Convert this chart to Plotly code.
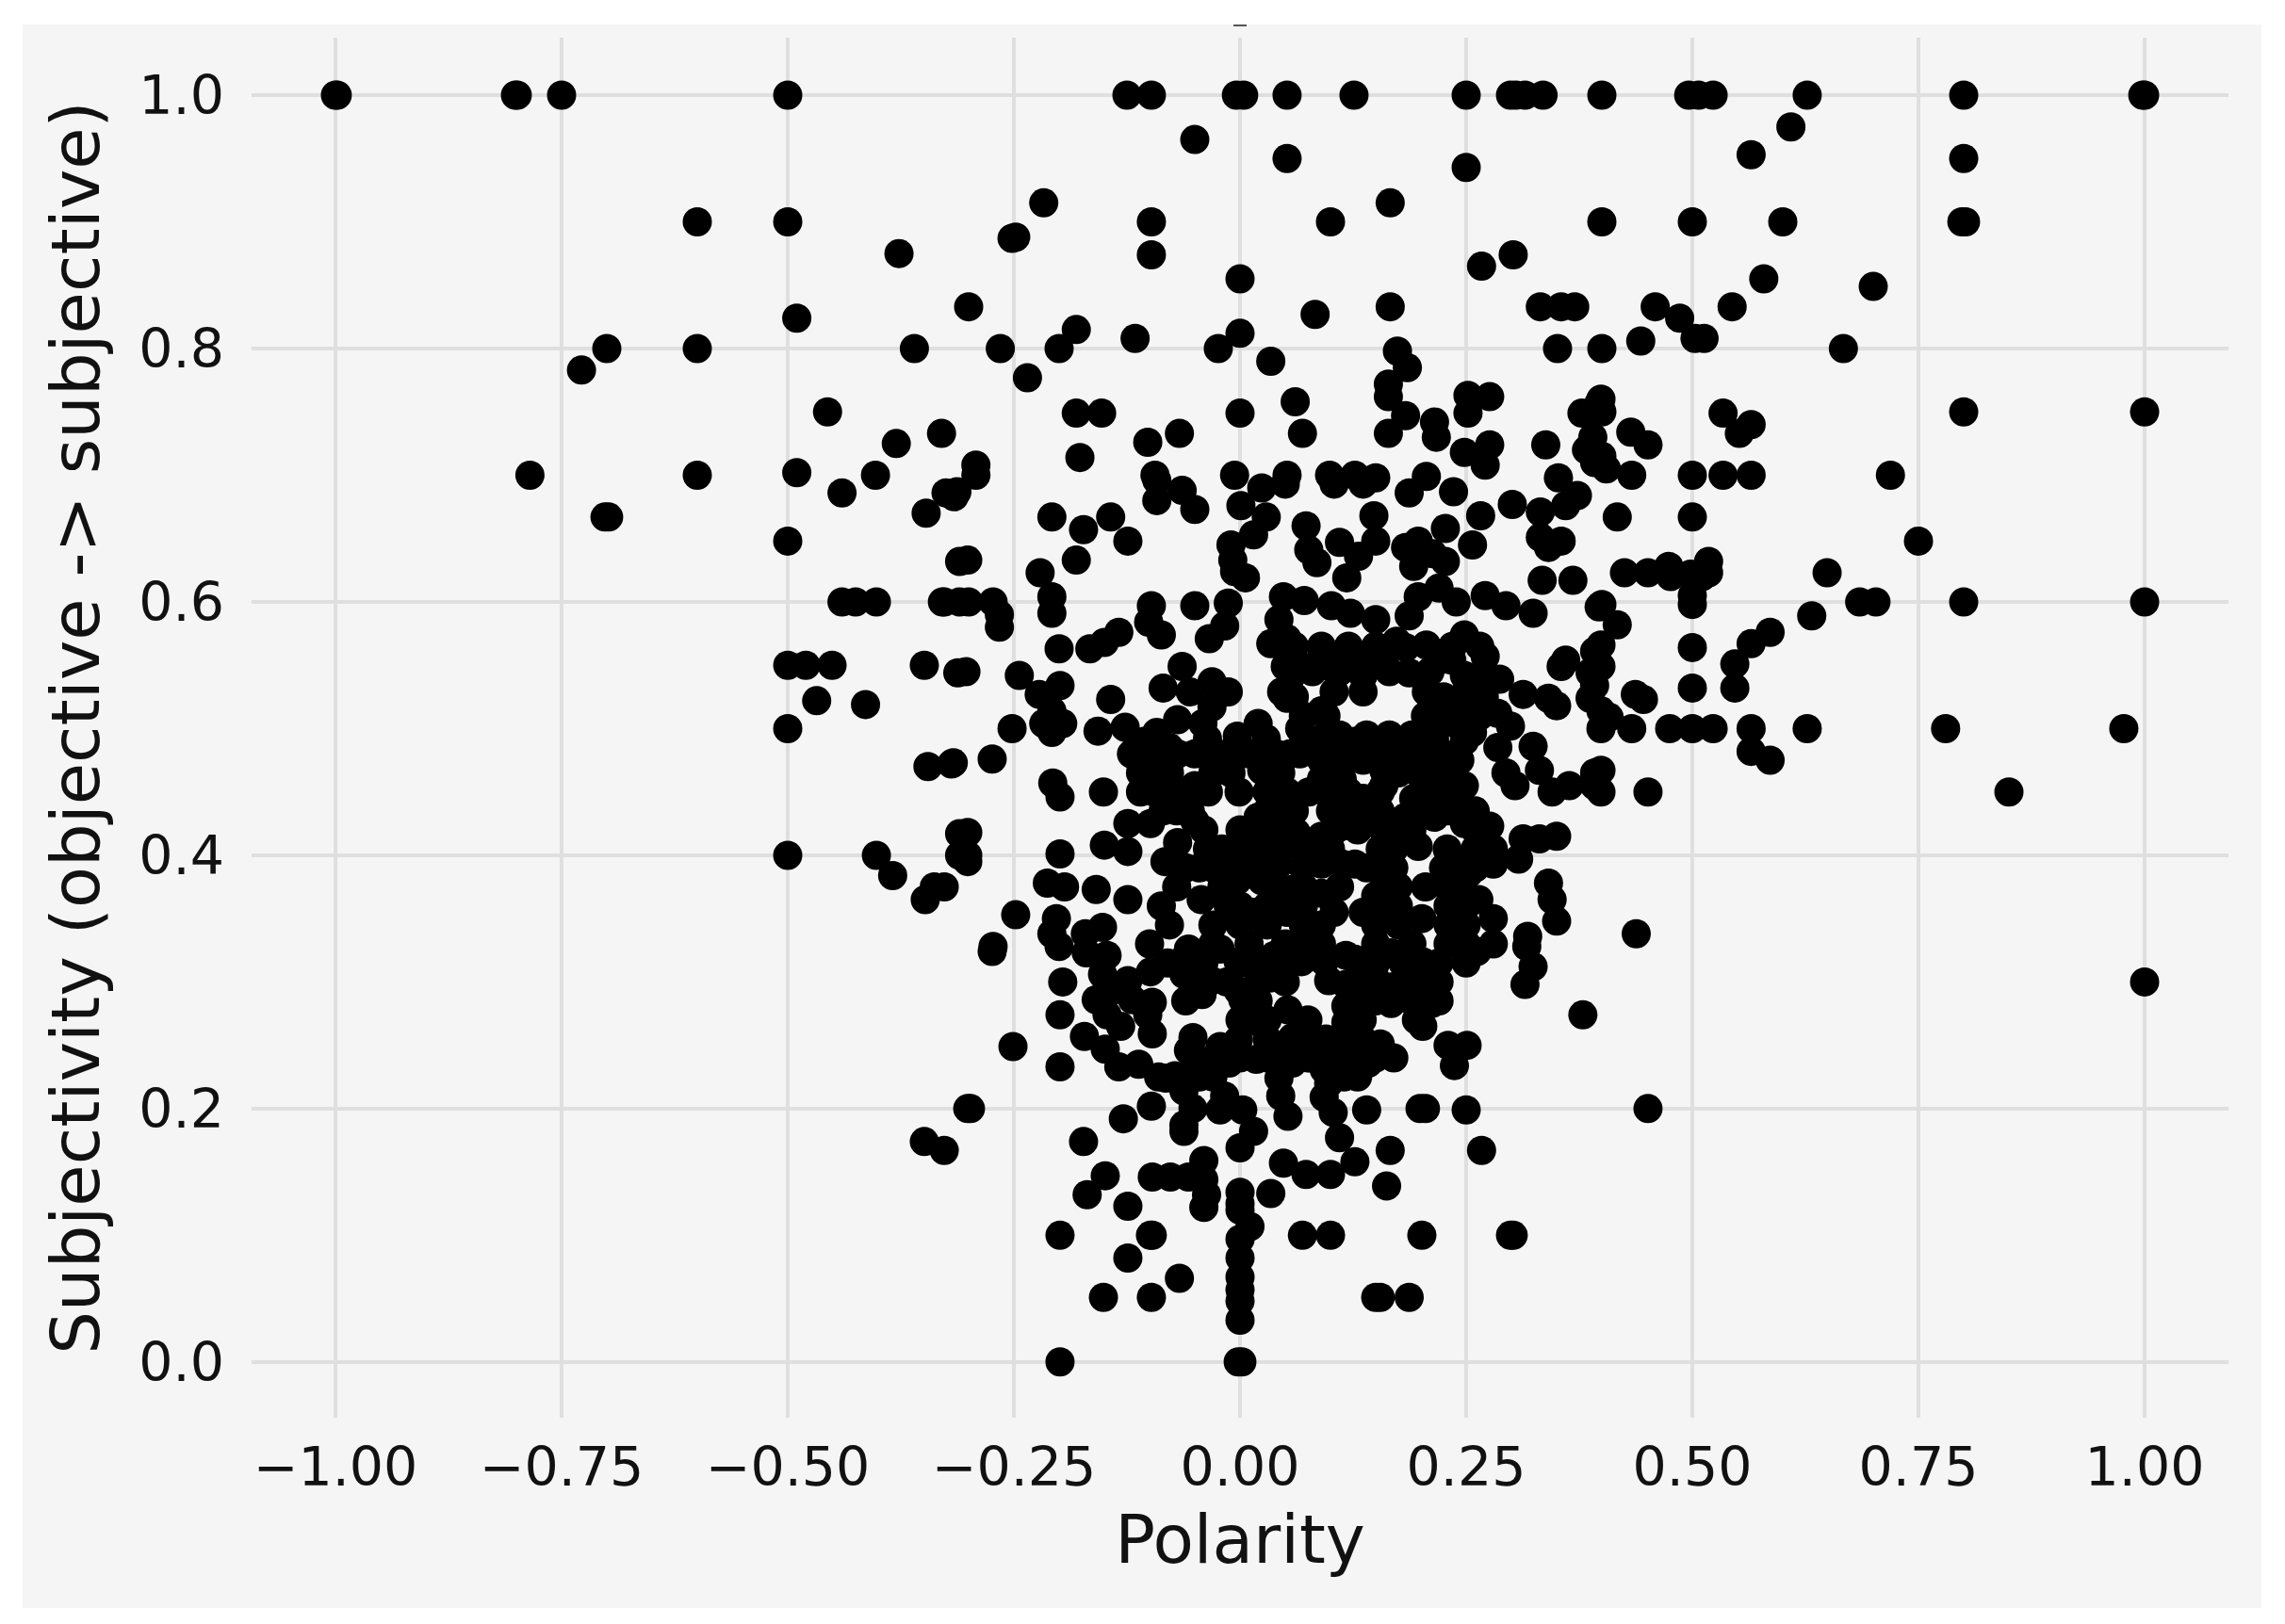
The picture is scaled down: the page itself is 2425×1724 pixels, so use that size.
import plotly.graph_objects as go

x_ticks = [-1.0, -0.75, -0.5, -0.25, 0.0, 0.25, 0.5, 0.75, 1.0]
y_ticks = [0.0, 0.2, 0.4, 0.6, 0.8, 1.0]
x_label = "Polarity"
y_label = "Subjectivity (objective -> subjective)"

# (polarity, subjectivity), region by region
top_row = [(-1,1),(-0.998,1),(-0.801,1),(-0.799,1),(-0.75,1),(-0.5,1),(-0.125,1),(-0.098,1),(-0.004,1),(0.004,1),(0.052,1),
           (0.126,1),(0.25,1),(0.299,1),(0.305,1),(0.315,1),(0.335,1),(0.4,1),(0.496,1),(0.507,1),(0.523,1),(0.627,1),(0.8,1),(0.998,1),(1,1)]
far_left = [(-0.6,0.9),(-0.5,0.9),(-0.377,0.875),(-0.49,0.824),(-0.7,0.8),(-0.728,0.783),(-0.6,0.8),(-0.36,0.8),(-0.456,0.75),
            (-0.38,0.725),(-0.785,0.7),(-0.6,0.7),(-0.49,0.702),(-0.403,0.7),(-0.44,0.686),(-0.702,0.667),(-0.698,0.667),(-0.347,0.67),
            (-0.33,0.733),(-0.325,0.686),(-0.5,0.648),(-0.44,0.6),(-0.425,0.6),(-0.402,0.6),(-0.327,0.6),(-0.31,0.6),(-0.316,0.683),
            (-0.5,0.55),(-0.48,0.55),(-0.451,0.55),(-0.349,0.55),(-0.312,0.544),(-0.468,0.522),(-0.414,0.519),(-0.5,0.5),(-0.345,0.47),
            (-0.319,0.472),(-0.31,0.417),(-0.31,0.4),(-0.305,0.4),(-0.5,0.4),(-0.402,0.4),(-0.384,0.384),(-0.338,0.375),(-0.348,0.365),(-0.31,0.632)]
upper_center = [(-0.05,0.965),(0.052,0.95),(0.25,0.943),(-0.217,0.915),(0.166,0.915),(-0.098,0.9),(0.1,0.9),(-0.252,0.887),(-0.248,0.888),
                (-0.098,0.874),(0.302,0.874),(0.267,0.865),(0,0.855),(-0.3,0.833),(0.166,0.833),(0.083,0.827),(0.332,0.833),(0.355,0.833),
                (0.37,0.833),(-0.181,0.815),(-0.265,0.8),(-0.2,0.8),(-0.116,0.808),(0,0.812),(-0.024,0.8),(0.034,0.79),(0.174,0.798),(0.185,0.785),
                (0.164,0.772),(0.164,0.762),(0.351,0.8),(-0.235,0.777),(0.061,0.758),(0,0.749),(-0.181,0.749),(-0.153,0.749),(0.252,0.763),
                (0.276,0.762),(0.252,0.749),(0.183,0.747),(0.164,0.733),(0.215,0.742),(0.217,0.73),(0.378,0.749),(0.397,0.757),(-0.067,0.733),
                (-0.102,0.726),(0.069,0.733),(0.338,0.724),(0.248,0.718),(0.276,0.724),(0.271,0.708),(0.383,0.72),(0.392,0.71),(-0.177,0.714),
                (-0.292,0.708),(-0.094,0.7),(-0.006,0.7),(0.052,0.7),(0.099,0.7),(0.127,0.7),(0.15,0.698),(0.206,0.699),(0.352,0.698)]
upper_right = [(0.609,0.975),(0.565,0.953),(0.8,0.95),(0.4,0.9),(0.5,0.9),(0.6,0.9),(0.798,0.9),(0.802,0.9),(0.579,0.855),(0.7,0.849),(0.459,0.833),
               (0.486,0.824),(0.503,0.808),(0.513,0.808),(0.544,0.833),(0.443,0.806),(0.4,0.8),(0.667,0.8),(0.534,0.749),(0.8,0.75),(1,0.75),(0.565,0.74),
               (0.552,0.733),(0.432,0.734),(0.451,0.724),(0.4,0.75),(0.399,0.76),(0.39,0.73),(0.4,0.715),(0.405,0.705),(0.433,0.7),(0.5,0.7),(0.534,0.7),
               (0.565,0.7),(0.719,0.7)]
mid_right = [(0.417,0.667),(0.5,0.667),(0.75,0.648),(0.425,0.623),(0.451,0.623),(0.474,0.628),(0.476,0.62),(0.498,0.622),(0.518,0.632),(0.518,0.623),
             (0.511,0.62),(0.649,0.623),(0.4,0.598),(0.5,0.598),(0.5,0.605),(0.685,0.6),(0.703,0.6),(0.8,0.6),(1,0.6),(0.632,0.589),(0.417,0.582),(0.586,0.576),
             (0.565,0.567),(0.5,0.564),(0.547,0.551),(0.5,0.532),(0.547,0.532),(0.399,0.566),(0.399,0.549),(0.437,0.527),(0.446,0.523),(0.399,0.514),(0.408,0.509),
             (0.399,0.5),(0.433,0.5),(0.475,0.5),(0.5,0.5),(0.523,0.5),(0.565,0.5),(0.627,0.5),(0.78,0.5),(0.977,0.5),(0.565,0.482),(0.586,0.475),(0.399,0.467),
             (0.399,0.45),(0.451,0.45),(0.85,0.45),(0.438,0.338),(1,0.3),(0.451,0.2),(0.379,0.274)]
center_left = [(-0.292,0.7),(-0.313,0.687),(-0.208,0.667),(-0.173,0.657),(-0.143,0.667),(-0.124,0.648),(-0.301,0.633),(-0.181,0.633),(-0.221,0.623),
               (-0.329,0.6),(-0.3,0.6),(-0.273,0.6),(-0.266,0.58),(-0.266,0.59),(-0.208,0.604),(-0.208,0.591),(-0.2,0.563),(-0.166,0.563),(-0.15,0.568),
               (-0.134,0.576),(-0.098,0.597),(-0.087,0.574),(-0.101,0.584),(-0.05,0.597),(-0.013,0.599),(-0.034,0.571),(-0.017,0.581),(-0.303,0.545),
               (-0.244,0.542),(-0.199,0.534),(-0.222,0.527),(-0.208,0.514),(-0.208,0.497),(-0.196,0.504),(-0.217,0.504),(-0.252,0.5),(-0.143,0.523),
               (-0.157,0.498),(-0.127,0.501),(-0.317,0.473),(-0.274,0.476),(-0.207,0.457),(-0.199,0.446),(-0.151,0.45),(-0.064,0.549),(-0.031,0.537),
               (-0.013,0.529),(-0.085,0.532),(-0.055,0.529),(-0.031,0.517),(-0.069,0.507),(-0.092,0.497),(-0.041,0.504),(-0.036,0.492),(-0.12,0.48),
               (-0.106,0.49),(-0.078,0.485),(-0.11,0.465),(-0.069,0.48),(-0.031,0.48),(-0.11,0.45),(-0.083,0.45),(-0.05,0.455),(-0.027,0.475),(-0.055,0.435),
               (-0.05,0.427),(-0.078,0.465),(-0.064,0.447),(-0.001,0.45),(-0.124,0.425),(-0.099,0.425),(-0.15,0.408),(-0.199,0.401),(-0.124,0.403),(-0.069,0.41),
               (-0.036,0.405),(-0.045,0.39),(-0.083,0.395),(-0.213,0.378),(-0.194,0.375),(-0.159,0.373),(-0.124,0.365),(-0.087,0.36),(-0.078,0.345),(-0.043,0.365),
               (-0.248,0.353),(-0.203,0.35),(-0.208,0.338),(-0.152,0.343),(-0.171,0.338),(-0.273,0.328),(-0.327,0.375),(-0.301,0.418),(-0.301,0.4),(-0.301,0.395)]
center_upper = [(-0.092,0.696),(-0.092,0.68),(-0.064,0.688),(-0.05,0.673),(0.001,0.676),(0.024,0.69),(0.05,0.693),(0.029,0.667),(-0.01,0.645),(0.015,0.653),
                (-0.006,0.624),(0.006,0.619),(-0.008,0.633),(0.104,0.693),(0.136,0.693),(0.187,0.686),(0.236,0.687),(0.301,0.677),(0.266,0.668),(0.148,0.668),
                (0.15,0.648),(0.073,0.66),(0.076,0.641),(0.11,0.647),(0.085,0.631),(0.131,0.636),(0.118,0.619),(0.197,0.648),(0.183,0.643),(0.192,0.628),(0.213,0.638),
                (0.227,0.632),(0.227,0.658),(0.257,0.645),(0.332,0.671),(0.332,0.651),(0.355,0.648),(0.36,0.676),(0.373,0.684),(0.341,0.643),(0.334,0.617),(0.368,0.617),
                (0.397,0.596),(0.22,0.611),(0.197,0.604),(0.187,0.589),(0.239,0.6),(0.271,0.605),(0.294,0.597),(0.324,0.591),(0.048,0.604),(0.071,0.601),(0.043,0.586),
                (0.101,0.597),(0.122,0.591),(0.15,0.586),(0.034,0.567),(0.052,0.571),(0.09,0.557),(0.117,0.557),(0.145,0.559),(0.173,0.569),(0.206,0.566),(0.248,0.574),
                (0.271,0.557),(0.234,0.554),(0.36,0.554),(0.355,0.549),(0.392,0.561),(0.387,0.544),(0.287,0.539),(0.313,0.527),(0.35,0.518),(0.341,0.524),(0.285,0.512),
                (0.387,0.524),(0.392,0.534)]
center_core = [(0.285,0.485),(0.299,0.502),(0.324,0.486),(0.304,0.455),(0.294,0.465),(0.331,0.467),(0.364,0.455),(0.345,0.45),(0.392,0.455),(0.392,0.465),
               (0.057,0.542),(0.046,0.529),(0.066,0.549),(0.052,0.524),(0.05,0.549),(0.099,0.549),(0.136,0.542),(0.159,0.552),(0.187,0.544),(0.22,0.554),(0.248,0.542),
               (0.262,0.529),(0.183,0.564),(0.104,0.529),(0.136,0.529),(0.09,0.514),(0.206,0.529),(0.229,0.514),(0.238,0.504),(0.257,0.497),(0.22,0.504),(0.215,0.492),
               (-0.003,0.494),(0.02,0.504),(0.029,0.492),(0.01,0.48),(0.024,0.467),(0.066,0.5),(0.09,0.492),(0.066,0.48),(0.09,0.475),(0.104,0.485),(0.127,0.49),(0.136,0.475),
               (0.113,0.46),(0.09,0.46),(0.052,0.45),(0.076,0.45),(0.104,0.447),(0.136,0.445),(0.155,0.49),(0.159,0.467),(0.192,0.48),(0.187,0.49),(0.225,0.48),(0.243,0.475),
               (0.248,0.455),(0.238,0.437),(0.197,0.465),(0.192,0.445),(0.22,0.45),(0.159,0.455),(0.248,0.49),(0.136,0.432),(0.113,0.423),(0.155,0.423),(0.183,0.43),(0.215,0.43),
               (0.248,0.425),(0.276,0.423),(0.28,0.405),(0.28,0.393),(0.313,0.413),(0.308,0.397),(0.35,0.415),(0.331,0.413),(0.248,0.395),(0.197,0.407),(0.229,0.405),(0.252,0.385),
               (0.341,0.378),(0.345,0.365),(0.35,0.348),(0.264,0.365),(0.28,0.35),(0.201,0.35),(0.159,0.395),(0.127,0.393),(0.159,0.375),(0.02,0.43),(0.043,0.44),(0.006,0.405),
               (0.034,0.418),(0.062,0.418),(0.09,0.415),(0.113,0.393),(0.09,0.393),(0.043,0.393),(-0.003,0.38),(0.024,0.38),(0.057,0.373),(0.015,0.355),(-0.013,0.36),(0.052,0.355),
               (0.09,0.37),(0.136,0.355),(0.104,0.355),(0.15,0.368),(0.318,0.336)]
lower_center = [(-0.274,0.324),(-0.196,0.3),(-0.199,0.274),(-0.251,0.249),(-0.199,0.233),(-0.172,0.257),(-0.149,0.247),(-0.134,0.233),(-0.112,0.235),(-0.159,0.286),(-0.152,0.306),
                (-0.142,0.293),(-0.147,0.274),(-0.132,0.265),(-0.124,0.301),(-0.099,0.308),(-0.097,0.284),(-0.119,0.286),(-0.097,0.259),(-0.102,0.274),(-0.2,0.328),(-0.17,0.323),
                (-0.147,0.321),(-0.062,0.306),(-0.042,0.29),(-0.032,0.301),(-0.062,0.318),(-0.057,0.326),(-0.002,0.316),(0.003,0.286),(0.013,0.269),(-0.002,0.254),(0.018,0.239),
                (-0.022,0.326),(0.038,0.321),(0.033,0.303),(0.053,0.278),(0.058,0.256),(0.048,0.241),(0.068,0.326),(-0.057,0.246),(-0.072,0.226),(-0.052,0.231),(-0.062,0.214),
                (-0.032,0.231),(-0.022,0.249),(-0.012,0.236),(-0.052,0.256),(-0.032,0.239),(-0.062,0.187),(-0.052,0.2),(-0.022,0.199),(0.003,0.199),(-0.017,0.21),(0.015,0.182),
                (0,0.169),(0.045,0.21),(0.053,0.194),(0.043,0.224),(0.058,0.236),(0.093,0.231),(0.117,0.236),(0.142,0.236),(0.117,0.256),(0.093,0.249),(0.117,0.281),(0.132,0.303),
                (0.117,0.298),(0.098,0.301),(0.127,0.318),(0.167,0.323),(0.167,0.283),(0.192,0.298),(0.212,0.283),(0.202,0.265),(0.167,0.296),(0.202,0.316),(0.262,0.324),(0.317,0.328),
                (0.324,0.312),(0.315,0.298),(0.155,0.251),(0.17,0.24),(0.23,0.25),(0.251,0.25),(0.237,0.234),(0.098,0.22),(0.093,0.209),(0.103,0.197),(0.11,0.177),(0.14,0.199),
                (0.199,0.2),(0.205,0.2),(0.25,0.199),(0.267,0.167),(0.166,0.167),(0.127,0.158),(0.162,0.139),(0.048,0.157),(0.073,0.148),(0.1,0.148),(0.034,0.133),(-0.062,0.182),
                (0.04,0.246),(0.078,0.24),(-0.082,0.224),(-0.002,0.293),(0.148,0.306),(0.117,0.321),(0.068,0.316),(0.093,0.316),(0.117,0.268),(0.142,0.288)]
bottom_part = [(0,0.134),(0,0.125),(0,0.12),(0.011,0.107),(0,0.097),(0,0.082),(0,0.067),(0,0.057),(0,0.048),(0,0.033),(-0.002,0),(0.002,0),(-0.04,0.159),(-0.04,0.144),(-0.037,0.132),
               (-0.04,0.122),(-0.097,0.146),(-0.077,0.146),(-0.057,0.146),(-0.149,0.147),(-0.169,0.132),(-0.124,0.123),(-0.098,0.202),(-0.129,0.192),(-0.173,0.174),(-0.301,0.2),(-0.298,0.2),
               (-0.349,0.174),(-0.327,0.167),(-0.199,0.1),(-0.099,0.1),(-0.097,0.1),(-0.124,0.082),(-0.067,0.066),(-0.151,0.051),(-0.098,0.051),(0.069,0.1),(0.1,0.1),(0.201,0.1),
               (0.299,0.1),(0.302,0.1),(0.15,0.051),(0.155,0.051),(0.187,0.051),(-0.199,0)]

# dense blob: marks hidden in the solid black area, estimated row by row (subjectivity, polarities)
blob_rows = [
    (0.565, [0.06, 0.09, 0.12, 0.15, 0.235, 0.265]),
    (0.545, [0.08, 0.11, 0.165, 0.21, 0.27]),
    (0.525, [0.06, 0.225, 0.245, 0.27]),
    (0.51, [0.07, 0.095, 0.205, 0.225, 0.25, 0.265]),
    (0.495, [0.07, 0.11, 0.14, 0.165, 0.19]),
    (0.48, [-0.1, -0.09, -0.05, -0.04, -0.015, 0.0, 0.04, 0.055, 0.12, 0.15, 0.17, 0.21]),
    (0.465, [-0.095, -0.03, -0.01, 0.045, 0.11, 0.175, 0.215, 0.235]),
    (0.45, [-0.095, -0.035, 0.03, 0.095, 0.12, 0.155, 0.205, 0.235]),
    (0.435, [-0.085, -0.07, 0.03, 0.05, 0.06, 0.1, 0.125, 0.155, 0.205, 0.23, 0.26]),
    (0.42, [-0.04, 0.0, 0.02, 0.05, 0.105, 0.13, 0.16, 0.19, 0.26]),
    (0.405, [-0.02, 0.02, 0.045, 0.07, 0.1, 0.155, 0.17, 0.26]),
    (0.39, [-0.06, -0.03, -0.015, 0.015, 0.07, 0.14, 0.17, 0.225, 0.26]),
    (0.375, [-0.07, -0.02, 0.04, 0.07, 0.11, 0.175, 0.205, 0.23, 0.24]),
    (0.36, [0.0, 0.03, 0.07, 0.16, 0.175, 0.23, 0.25]),
    (0.345, [-0.03, 0.0, 0.03, 0.07, 0.09, 0.15, 0.175, 0.23, 0.25]),
    (0.33, [-0.1, -0.03, 0.01, 0.05, 0.09, 0.15, 0.19, 0.23, 0.25, 0.28]),
    (0.315, [-0.08, -0.04, 0.0, 0.02, 0.05, 0.15, 0.18, 0.22, 0.25]),
    (0.30, [-0.05, -0.015, 0.02, 0.05, 0.13, 0.15, 0.18, 0.2, 0.22]),
    (0.285, [-0.06, 0.02, 0.13, 0.15, 0.19, 0.22]),
    (0.27, [0.0, 0.03, 0.075, 0.135, 0.195]),
    (0.255, [0.03, 0.075, 0.095, 0.135]),
    (0.24, [0.0, 0.03, 0.075, 0.115, 0.135, 0.15]),
    (0.225, [-0.045, -0.09, -0.03, 0.115, 0.13]),
]
blob_fill = [(p, s) for s, row in blob_rows for p in row]

regions = [top_row, far_left, upper_center, upper_right, mid_right, center_left, center_upper, center_core, lower_center, bottom_part, blob_fill]
polarity = [p[0] for r in regions for p in r]
subjectivity = [p[1] for r in regions for p in r]

# the page body has an 8 px margin, so figure pixels are page pixels minus 8
OFF = 8
W, H = 2425 - 2 * OFF, 1724 - 2 * OFF
L, R, T, B = 267 - OFF, 2365 - OFF, 40 - OFF, 1505 - OFF
pw, ph = R - L, B - T


def px(X):
    return (X - OFF - L) / pw


def py(Y):
    return (B - (Y - OFF)) / ph


fig = go.Figure(go.Scatter(
    x=polarity, y=subjectivity, mode="markers",
    marker=dict(color="black", size=31, line=dict(width=0)),
    showlegend=False, cliponaxis=False,
))

font_name = "DejaVu Sans"
fig.update_layout(
    width=W, height=H, autosize=False,
    margin=dict(l=L, r=W - R, t=T, b=H - B, pad=0),
    paper_bgcolor="white", plot_bgcolor="rgba(0,0,0,0)",
    font=dict(family=font_name, color="#111111"),
    shapes=[
        dict(type="rect", xref="paper", yref="paper", x0=px(24), x1=px(2400), y0=py(1707), y1=py(26),
             fillcolor="#f5f5f5", line=dict(width=0), layer="below"),
        dict(type="line", xref="paper", yref="paper", x0=px(1309), x1=px(1323), y0=py(27), y1=py(27),
             line=dict(color="#555555", width=2), layer="below"),
    ],
    xaxis=dict(
        range=[-1.0927, 1.0927], tickmode="array", tickvals=x_ticks, tickformat=".2f",
        showgrid=True, gridcolor="#dfdfdf", gridwidth=4, zeroline=False, showline=False,
        ticks="", tickfont=dict(size=57, family=font_name, color="#111111"), ticklabelstandoff=14,
        title=dict(text=x_label, font=dict(size=71, family=font_name, color="#111111"), standoff=20),
    ),
    yaxis=dict(
        range=[-0.044, 1.0454], tickmode="array", tickvals=y_ticks, tickformat=".1f",
        showgrid=True, gridcolor="#dfdfdf", gridwidth=4, zeroline=False, showline=False,
        ticks="", tickfont=dict(size=57, family=font_name, color="#111111"), ticklabelstandoff=28,
        title=dict(text=y_label, font=dict(size=72, family=font_name, color="#111111"), standoff=18),
    ),
)

fig.write_html("out.html")
